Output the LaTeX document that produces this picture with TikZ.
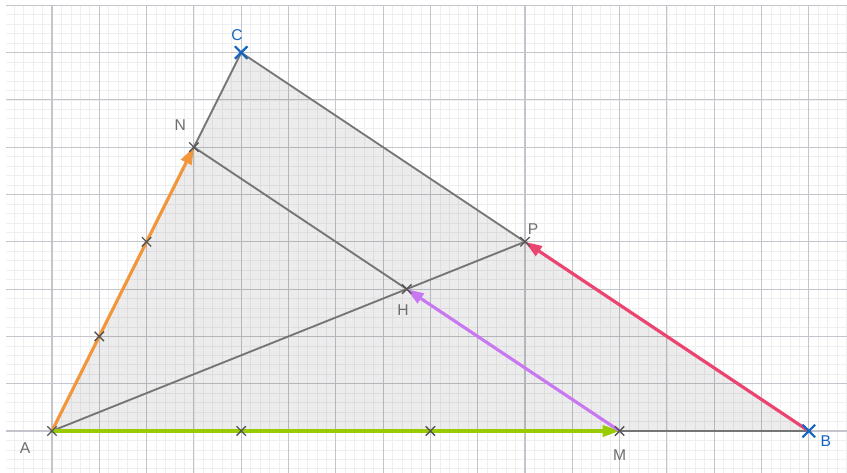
\documentclass[tikz,border=0pt]{standalone}
\usepackage{fontspec}
\setmainfont{Liberation Sans}
\usetikzlibrary{arrows.meta,shapes.misc}
\definecolor{minorgrid}{HTML}{EFEFEF}
\definecolor{majorgrid}{HTML}{C4C4CC}
\definecolor{edgegray}{HTML}{757575}
\definecolor{ptgray}{HTML}{555555}
\definecolor{ptblue}{HTML}{1565C0}
\definecolor{vorange}{HTML}{F2963C}
\definecolor{vgreen}{HTML}{99CC00}
\definecolor{vpurple}{HTML}{C878F0}
\definecolor{vred}{HTML}{EC4470}
\tikzset{
  edge/.style={draw=edgegray,line width=1.1pt},
  vect/.style={line width=1.9pt,-{Triangle[length=0.36cm,width=0.24cm]}},
  ptg/.style={cross out,draw=ptgray,line width=0.8pt,minimum size=0.17cm,inner sep=0pt},
  ptb/.style={cross out,draw=ptblue,line width=1.3pt,minimum size=0.22cm,inner sep=0pt},
  lblg/.style={text=ptgray!85,font=\fontsize{9.4pt}{11pt}\selectfont,inner sep=0pt},
  lblb/.style={text=ptblue,font=\fontsize{9.4pt}{11pt}\selectfont,inner sep=0pt},
}
\begin{document}
\begin{tikzpicture}[x=1cm,y=1cm]
\useasboundingbox (-1.099,-0.888) rectangle (16.808,9.112);
\fill[white] (-1.099,-0.888) rectangle (16.808,9.112);
\begin{scope}
\clip (-0.97,-0.888) rectangle (16.808,8.985);
\draw[minorgrid,line width=0.4pt] (-1.2,-1.0) grid[step=0.2] (17,9.2);
\draw[majorgrid,line width=0.65pt] (-1,-1) grid[step=1] (17,9);
\end{scope}
\coordinate (A) at (0,0);
\coordinate (B) at (16,0);
\coordinate (C) at (4,8);
\coordinate (N) at (3,6);
\coordinate (P) at (10,4);
\coordinate (H) at (7.5,3);
\coordinate (M) at (12,0);
\coordinate (Q1) at (1,2);
\coordinate (Q2) at (2,4);
\coordinate (R1) at (4,0);
\coordinate (R2) at (8,0);
\fill[black,fill opacity=0.075] (A) -- (B) -- (C) -- cycle;
\draw[edge] (A) -- (B) -- (C) -- cycle;
\draw[edge] (N) -- (H);
\draw[edge] (A) -- (P);
\draw[vect,vorange] (A) -- (N);
\draw[vect,vgreen] (A) -- (M);
\draw[vect,vpurple] (M) -- (H);
\draw[vect,vred] (B) -- (P);
\foreach \p in {A,N,P,H,M,Q1,Q2,R1,R2} \node[ptg] at (\p) {};
\node[ptb] (Bx) at (B) {};
\node[ptb] (Cx) at (C) {};
\node[lblb] (Cl) at (3.91,8.37) {C};
\node[lblb] (Bl) at (16.36,-0.21) {B};
\node[lblg] (Al) at (-0.57,-0.36) {A};
\node[lblg] (Nl) at (2.71,6.47) {N};
\node[lblg] (Pl) at (10.17,4.27) {P};
\node[lblg] (Hl) at (7.42,2.56) {H};
\node[lblg] (Ml) at (12.0,-0.51) {M};
\end{tikzpicture}
\end{document}
